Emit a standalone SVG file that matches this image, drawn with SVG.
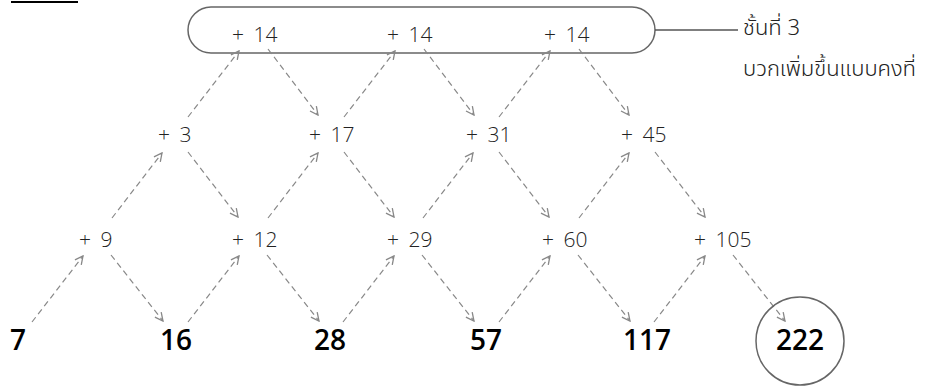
<svg xmlns="http://www.w3.org/2000/svg" width="925" height="387" viewBox="0 0 925 387">
<defs>
<style>
.lbl{font-family:"Open Sans","Noto Sans",sans-serif;font-weight:300;font-size:21px;fill:#222;word-spacing:4px}
.num{font-family:"Open Sans","Noto Sans",sans-serif;font-weight:600;font-size:28px;fill:#000}
.th{font-family:"Noto Sans Thai","Noto Sans","DejaVu Sans",sans-serif;font-weight:300;font-size:22px;fill:#222}
.arr{stroke:#888;stroke-width:1.2;stroke-dasharray:6 4;fill:none;marker-end:url(#ah)}
.frame{fill:none;stroke:#666;stroke-width:1.5}
</style>
<marker id="ah" viewBox="0 0 10 10" refX="9" refY="5" markerWidth="10" markerHeight="10" markerUnits="userSpaceOnUse" orient="auto">
<path d="M1,1 L9,5 L1,9" fill="none" stroke="#888" stroke-width="1.3"/>
</marker>
</defs>
<rect width="925" height="387" fill="#fff"/>
<line x1="11" y1="2" x2="78" y2="2" stroke="#000" stroke-width="2"/>
<g id="layer3">
<rect class="frame" x="188" y="7" width="467" height="46" rx="23" ry="23"/>
<line x1="655" y1="30" x2="738" y2="30" stroke="#555" stroke-width="1.5"/>
<text class="th" x="743" y="35">ชั้นที่ 3</text>
<text class="th" x="743" y="76">บวกเพิ่มขึ้นแบบคงที่</text>
</g>
<g id="connectors">
<line class="arr" x1="32" y1="322" x2="83" y2="256"/>
<line class="arr" x1="188" y1="322" x2="239" y2="256"/>
<line class="arr" x1="343" y1="322" x2="394" y2="256"/>
<line class="arr" x1="499" y1="322" x2="550" y2="256"/>
<line class="arr" x1="654" y1="322" x2="705" y2="256"/>
<line class="arr" x1="111" y1="255" x2="163" y2="321"/>
<line class="arr" x1="267" y1="255" x2="319" y2="321"/>
<line class="arr" x1="422" y1="255" x2="474" y2="321"/>
<line class="arr" x1="578" y1="255" x2="630" y2="321"/>
<line class="arr" x1="733" y1="255" x2="785" y2="321"/>
<line class="arr" x1="112" y1="218" x2="162" y2="153"/>
<line class="arr" x1="268" y1="218" x2="318" y2="153"/>
<line class="arr" x1="423" y1="218" x2="473" y2="153"/>
<line class="arr" x1="579" y1="218" x2="629" y2="153"/>
<line class="arr" x1="188" y1="152" x2="238" y2="217"/>
<line class="arr" x1="344" y1="152" x2="394" y2="217"/>
<line class="arr" x1="499" y1="152" x2="549" y2="217"/>
<line class="arr" x1="655" y1="152" x2="705" y2="217"/>
<line class="arr" x1="188" y1="117" x2="239" y2="51"/>
<line class="arr" x1="344" y1="117" x2="395" y2="51"/>
<line class="arr" x1="499" y1="117" x2="550" y2="51"/>
<line class="arr" x1="268" y1="49" x2="318" y2="115"/>
<line class="arr" x1="424" y1="49" x2="474" y2="115"/>
<line class="arr" x1="579" y1="49" x2="629" y2="115"/>
</g>
<g id="row1">
<text class="lbl" x="232" y="42">+ 14</text>
<text class="lbl" x="387" y="42">+ 14</text>
<text class="lbl" x="544" y="42">+ 14</text>
</g>
<g id="row2">
<text class="lbl" x="158" y="142">+ 3</text>
<text class="lbl" x="309" y="142">+ 17</text>
<text class="lbl" x="466" y="142">+ 31</text>
<text class="lbl" x="621" y="142">+ 45</text>
</g>
<g id="row3">
<text class="lbl" x="79" y="247">+ 9</text>
<text class="lbl" x="232" y="247">+ 12</text>
<text class="lbl" x="387" y="247">+ 29</text>
<text class="lbl" x="542" y="247">+ 60</text>
<text class="lbl" x="694" y="247">+ 105</text>
</g>
<g id="sequence">
<text class="num" x="10" y="350">7</text>
<text class="num" x="160" y="350">16</text>
<text class="num" x="314" y="350">28</text>
<text class="num" x="470" y="350">57</text>
<text class="num" x="623" y="350">117</text>
</g>
<g id="result">
<circle class="frame" cx="800" cy="341" r="44"/>
<text class="num" x="800" y="350" text-anchor="middle">222</text>
</g>
</svg>
